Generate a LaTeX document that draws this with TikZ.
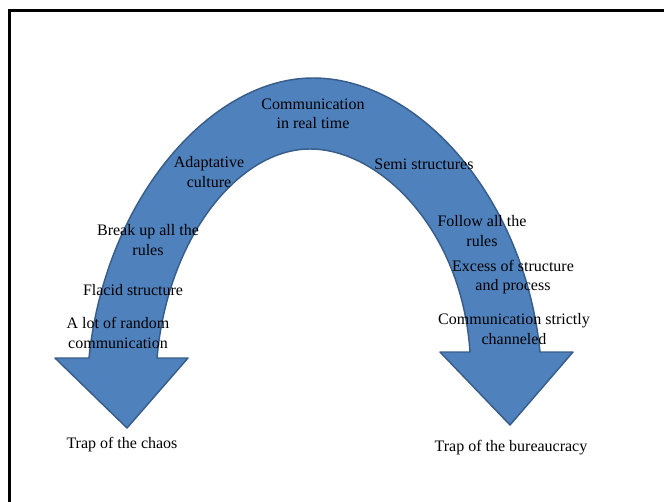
\documentclass[tikz,border=0pt]{standalone}
\usepackage{fontspec}
\setmainfont{Liberation Serif}
\definecolor{archfill}{HTML}{4F81BD}
\definecolor{archline}{HTML}{385D8A}

\begin{document}
\begin{tikzpicture}[
        x=0.75pt, y=-0.75pt,
        font=\fontsize{12}{14.4}\selectfont,
        arch/.style={fill=archfill, draw=archline, line width=1.1pt, line join=round},
        txt/.style={align=center, inner sep=0pt},
        frame/.style={line width=2.25pt},
    ]
        
        \useasboundingbox (0,0) rectangle (664,502);
        
        % --- frame (top and left edge only) ---
        \draw[frame] (9.5,502) |- (664,10.5);
        
        % --- the bent arrow: outer arch, right head, inner arch, left head ---
        \draw[arch] (89,358) .. controls (105,200) and (210,78) .. (313,78)
            .. controls (420,78) and (525,200) .. (540,352)
            -- (573,352) -- (510,425) -- (440,352) -- (470,352)
            .. controls (462,230) and (380,149) .. (310,149)
            .. controls (240,149) and (168,235) .. (157,358)
            -- (188,358) -- (127,428) -- (55,358) -- cycle;
        
        % top of the arch
        \node[txt] (realtime) at (313,114) {Communication\\in real time};
        
        % left leg
        \node[txt] (adapt)  at (209,172) {Adaptative\\culture};
        \node[txt] (break)  at (148,240) {Break up all the\\rules};
        \node[txt] (flacid) at (133,290) {Flacid structure};
        \node[txt] (random) at (118,333) {A lot of random\\communication};
        \node[txt] (chaos)  at (122,445) {Trap of the chaos};
        
        % right leg
        \node[txt] (semi)    at (424,164) {Semi structures};
        \node[txt] (follow)  at (482,231) {Follow all the\\rules};
        \node[txt] (excess)  at (513,277) {Excess of structure\\and process};
        \node[txt] (channel) at (514,329) {Communication strictly\\channeled};
        \node[txt] (bureau)  at (511,448) {Trap of the bureaucracy};
        
\end{tikzpicture}
\end{document}
